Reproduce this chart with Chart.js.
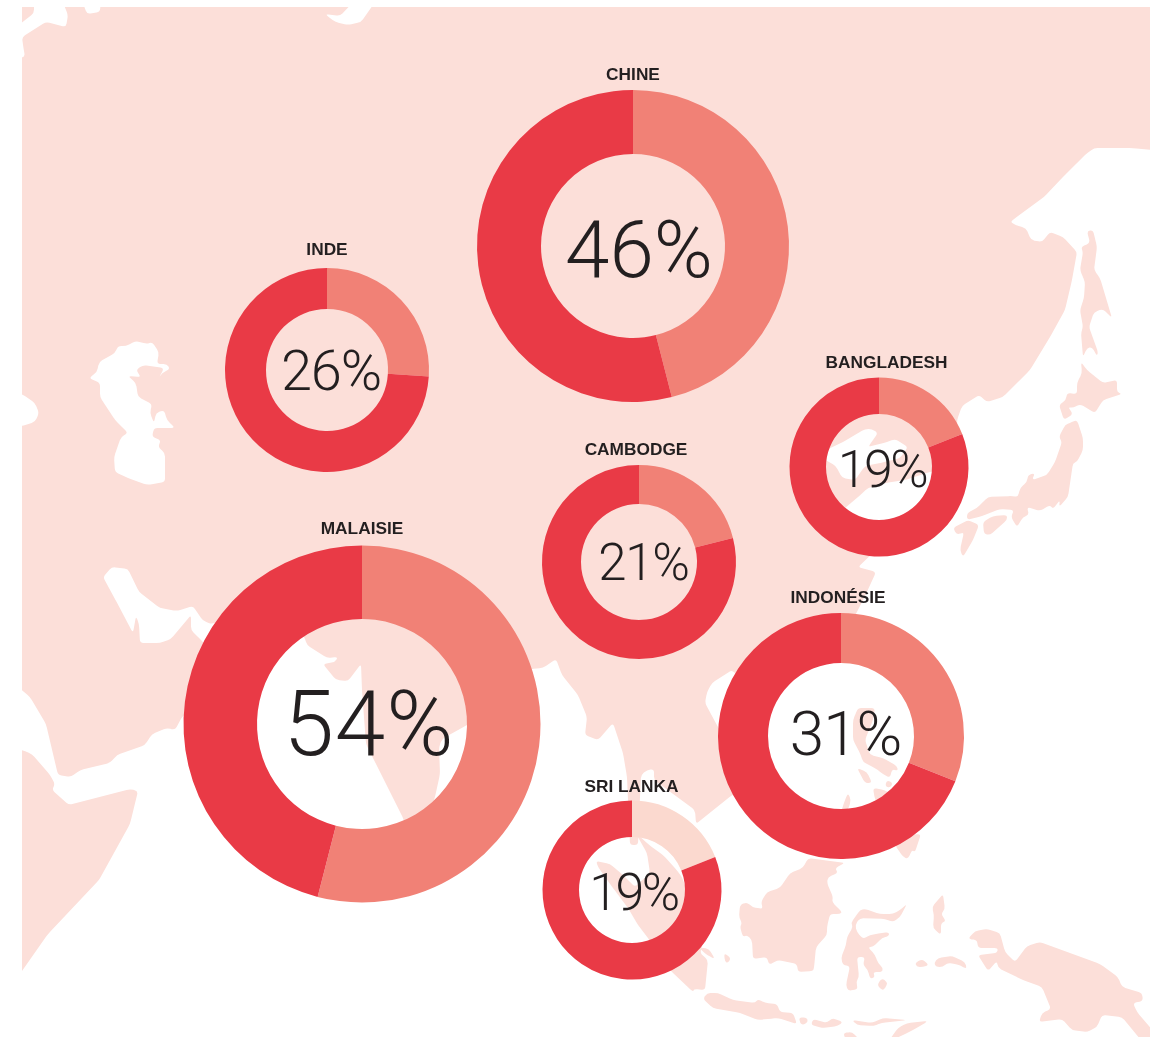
<!DOCTYPE html>
<html>
<head>
<meta charset="utf-8">
<title>Asie</title>
<script src="https://cdn.jsdelivr.net/npm/chart.js@4/dist/chart.umd.min.js"></script>
<style>
    html, body { margin: 0; padding: 0; background: #fff; }
    #stage { position: relative; width: 1166px; height: 1037px; overflow: hidden; }
    #map { position: absolute; left: 0; top: 0; }
    .donut { position: absolute; }
    .land { fill: #FCDFD9; }
    .sea { fill: #fff; }
</style>
</head>
<body>
<div id="stage">
<!-- backdrop map, traced by hand -->
<svg id="map" width="1166" height="1037" viewBox="0 0 1166 1037">
<defs><clipPath id="frame"><rect x="22" y="7" width="1128" height="1030"/></clipPath></defs>
<g clip-path="url(#frame)">
<polygon class="land" points="10,-5 34,-5 34,13 10,32"/>
<polygon class="land" points="22,37 46,22 66,27 68,15 60,-5 80,-5 87,14 100,12 101,-5 360,-5 340,16 325,14 335,22 348,25 361,22 380,-5 1170,-5 1170,152 1133,148 1094,148 1085,155 1063,177 1044,197 1010,222 1018,226 1026,228 1031,240 1042,242 1050,232 1063,237 1077,252 1072,280 1065,310 1050,337 1030,370 1003,397 987,402 979,395 962,406 957,420 960,480 930,520 871,555 858,567 876,572 866,594 856,614 841,640 750,690 732,670 712,683 707,692 705,703 718,727 735,755 745,790 732,795 696,824 695,810 654,780 654,769 647,770 641,775 640,797 638,845 630,845 628,800 627,777 623,753 613,723 598,740 585,735 587,717 578,695 562,675 556,659 543,668 530,669 500,700 467,725 442,739 439,747 440,774 435,797 425,830 404,830 404,820 366,744 362,690 361,664 348,681 336,680 323,664 335,662 338,657 327,658 307,645 304,636 270,600 212,624 203,621 193,606 177,611 160,608 139,592 128,569 112,567 103,577 115,599 133,633 136,616 139,624 140,643 160,643 171,639 191,615 191,630 203,642 230,680 200,700 182,717 175,730 167,728 152,734 145,745 117,755 110,763 80,770 71,777 58,775 46,724 30,697 10,680 10,427 22,426 35,422 39,413 35,403 22,394 10,392 10,60 25,57 23,45"/>
<polygon class="land" points="10,748 22,750 32,754 50,775 55,784 52,790 69,805 130,789 138,791 130,824 99,880 48,934 10,988"/>
<!-- Caspian -->
<polygon class="sea" points="89,378 97,372 99,362 115,353 118,346 126,346 136,341 147,344 152,342 159,352 157,364 167,364 170,369 162,373 159,378 164,368 143,365 136,370 141,377 128,376 136,383 138,397 152,404 150,413 154,423 156,413 164,410 167,420 175,428 154,428 152,437 161,440 158,447 165,453 165,482 147,485 128,478 115,472 114,457 121,437 128,433 115,420 100,397 100,383"/>
<!-- sea inside the Bangladesh ring -->
<polygon class="sea" points="820,453 843,442 865,429 872,429 878,433 868,447 887,442 895,439 908,447 900,458 885,462 865,466 855,480 842,478 836,466 822,458"/>
<polygon class="sea" points="838,514 858,497 868,488 885,483 905,480 930,472 975,460 975,540 900,570 850,540"/>
<!-- Sumatra and the peninsula inside the Sri Lanka ring -->
<polygon class="land" points="635,832 649,845 663,855 675,868 682,877 690,900 692,917 703,943 700,953 708,960 705,990 694,989 693,992 670,970 648,938 638,925 628,908 613,888 598,867 596,861 610,864 623,875 635,887 650,873 647,853"/>
<polygon class="land" points="698,947 709,949 715,959 707,955"/>
<polygon class="land" points="724,953 731,958 728,963 725,962"/>
<!-- Philippines -->
<polygon class="land" points="853,720 858,708 875,708 873,720 865,740 870,755 883,758 897,766 898,771 892,769 890,778 883,774 875,768 863,762 860,753 853,740"/>
<polygon class="land" points="857,768 867,772 872,783 865,783"/>
<polygon class="land" points="887,780 893,783 890,788 885,786"/>
<polygon class="land" points="873,788 885,790 900,800 890,815 875,800"/>
<polygon class="land" points="848,793 851,800 849,807 845,815 840,815 845,800"/>
<polygon class="land" points="895,845 903,857 908,859 912,850 915,852 921,834 905,835"/>
<!-- Borneo -->
<polygon class="land" points="808,858 845,863 835,868 838,873 828,877 827,883 833,897 832,902 842,912 840,914 830,914 827,927 827,935 816,947 814,968 813,971 798,972 797,964 778,960 769,965 767,957 753,959 752,940 747,935 743,937 740,927 742,923 739,917 740,905 747,902 752,907 763,909 761,902 767,892 780,888 790,873 803,868"/>
<!-- Sulawesi -->
<polygon class="land" points="907,904 900,917 893,922 885,919 860,918 855,925 857,932 863,939 870,935 882,933 889,932 889,936 882,938 873,947 868,947 875,955 878,963 883,968 882,972 873,972 875,977 870,979 868,970 863,965 865,957 857,957 859,977 856,982 858,989 848,991 846,985 850,966 843,965 841,958 846,945 847,937 853,927 851,923 860,910 865,909 880,914 893,914 900,910"/>
<polygon class="land" points="882,978 887,982 887,985 883,991 877,985"/>
<polygon class="land" points="943,894 944,902 945,909 941,914 946,921 941,923 941,935 933,928 934,915 932,907"/>
<polygon class="land" points="915,963 922,959 929,965 923,967 917,967"/>
<polygon class="land" points="934,963 938,958 952,956 965,962 967,969 957,964 947,963 943,967 936,967"/>
<!-- New Guinea -->
<polygon class="land" points="968,939 975,931 987,929 1000,933 1005,952 1015,962 1027,946 1040,942 1100,964 1118,977 1122,987 1142,993 1143,1001 1133,1003 1137,1012 1165,1045 1145,1045 1122,1017 1102,1015 1097,1027 1087,1032 1072,1030 1062,1019 1039,1022 1042,1013 1051,1009 1042,987 1023,980 998,968 997,961 988,971 978,955 997,953 998,948 978,948 977,940"/>
<!-- Java and the small islands -->
<polygon class="land" points="703,999 707,993 718,993 733,1000 755,1003 758,999 765,1003 777,1004 780,1012 793,1013 797,1024 778,1018 768,1019 758,1020 740,1013 713,1008"/>
<polygon class="land" points="799,1017 807,1018 808,1022 803,1025 800,1023"/>
<polygon class="land" points="813,1019 827,1023 832,1018 843,1022 838,1026 823,1028 811,1025"/>
<polygon class="land" points="852,1020 872,1023 883,1018 907,1020 882,1023 873,1026 857,1025"/>
<polygon class="land" points="907,1023 928,1021 917,1028 903,1035 888,1042 898,1028"/>
<polygon class="land" points="843,1033 852,1032 862,1042 847,1042"/>
<!-- Sakhalin, Japan -->
<polygon class="land" points="1087,231 1093,230 1097,247 1094,270 1100,278 1112,318 1103,309 1094,312 1089,327 1098,352 1097,356 1092,347 1087,348 1083,357 1081,333 1083,327 1080,310 1084,298 1085,282 1080,270 1083,252 1081,247 1090,243"/>
<polygon class="land" points="1081,362 1087,370 1103,383 1117,380 1117,392 1122,394 1103,400 1095,413 1080,404 1073,408 1068,407 1073,414 1064,420 1059,405 1066,400 1067,393 1077,394 1077,383 1082,373"/>
<polygon class="land" points="1072,422 1077,420 1083,438 1083,450 1077,462 1073,463 1068,497 1059,507 1060,500 1053,509 1050,505 1040,511 1027,507 1029,515 1023,517 1017,527 1011,517 1014,510 1000,509 982,516 967,520 967,513 977,508 988,497 1012,496 1018,497 1020,488 1027,482 1028,475 1035,473 1032,480 1047,475 1055,462 1062,442 1059,437 1065,425"/>
<polygon class="land" points="983,522 993,516 1007,515 1007,520 990,535 984,534"/>
<polygon class="land" points="953,528 968,520 979,525 973,540 963,557 960,550 964,532 957,535"/>
</g>
</svg>
<canvas class="donut" id="chine"></canvas>
<canvas class="donut" id="inde"></canvas>
<canvas class="donut" id="bangladesh"></canvas>
<canvas class="donut" id="cambodge"></canvas>
<canvas class="donut" id="malaisie"></canvas>
<canvas class="donut" id="indonesie"></canvas>
<canvas class="donut" id="srilanka"></canvas>
</div>
<script>
const countries = ['CHINE', 'INDE', 'BANGLADESH', 'CAMBODGE', 'MALAISIE', 'INDONÉSIE', 'SRI LANKA'];
const shares = [46, 26, 19, 21, 54, 31, 19];
const canvasIds = ['chine', 'inde', 'bangladesh', 'cambodge', 'malaisie', 'indonesie', 'srilanka'];

// ring geometry on the page
const centreX = [633, 327, 879, 639, 361.5, 841, 631.5];
const centreY = [246, 370, 467, 562, 724, 736, 890];
const outerR = [156, 102, 89.5, 97, 178.5, 123, 89.5];
const innerR = [92, 61, 53, 58, 105, 73, 53];
// text placement relative to each ring
const percentSize = [80, 56, 52, 51, 91, 62, 52];
const percentTrack = [0, -1.1, -2.6, -1.2, 1, -1.1, -2.6];
const percentDx = [6, 4, 3, 4.5, 7, 4.5, 1.5];
const percentDy = [31, 20, 20, 18, 31, 19, 20];
const titleDx = [0, 0, 7.5, -3, 0, -3, -0.5];
const titleGap = [10, 13, 9.5, 10, 12, 10, 9];

const RED = '#E93A46';
const SALMON = '#F18176';
const PALE = '#FBD9CF';
const INK = '#231F20';

// round the corners of the traced coast
document.querySelectorAll('#map polygon').forEach(function(poly) {
    const pts = poly.getAttribute('points').trim().split(/\s+/).map(function(p) { return p.split(',').map(Number); });
    let d = '';
    pts.forEach(function(p, i) {
        const prev = pts[(i + pts.length - 1) % pts.length];
        const next = pts[(i + 1) % pts.length];
        const cut = function(q) {
            const len = Math.hypot(q[0] - p[0], q[1] - p[1]);
            const t = Math.min(3.5, len / 2) / len;
            return [p[0] + (q[0] - p[0]) * t, p[1] + (q[1] - p[1]) * t];
        };
        const a = cut(prev);
        const b = cut(next);
        d += (i ? 'L' : 'M') + a[0] + ' ' + a[1] + 'Q' + p[0] + ' ' + p[1] + ' ' + b[0] + ' ' + b[1];
    });
    const path = document.createElementNS('http://www.w3.org/2000/svg', 'path');
    path.setAttribute('d', d + 'Z');
    path.setAttribute('class', poly.getAttribute('class'));
    poly.replaceWith(path);
});

// country name above the ring, share in the hole
const ringText = {
    id: 'ringText',
    afterDraw(chart, args, opts) {
        const ctx = chart.ctx;
        const arc = chart.getDatasetMeta(0).data[0];
        ctx.save();
        ctx.fillStyle = INK;
        ctx.textAlign = 'center';
        ctx.textBaseline = 'alphabetic';
        ctx.font = 'bold 17.3px "Liberation Sans", Arial, sans-serif';
        ctx.fillText(opts.name, arc.x + opts.nameDx, arc.y - arc.outerRadius - opts.nameGap);
        ctx.font = '300 ' + opts.size + 'px Roboto, "Liberation Sans", sans-serif';
        ctx.letterSpacing = opts.track + 'px';
        ctx.fillText(opts.share + '%', arc.x + opts.dx, arc.y + opts.dy);
        ctx.restore();
    }
};

countries.forEach(function(name, i) {
    const half = Math.ceil(outerR[i]) + 40;
    const canvas = document.getElementById(canvasIds[i]);
    canvas.style.left = (centreX[i] - half) + 'px';
    canvas.style.top = (centreY[i] - half) + 'px';
    canvas.style.width = (half * 2) + 'px';
    canvas.style.height = (half * 2) + 'px';
    canvas.width = half * 2;
    canvas.height = half * 2;

    new Chart(canvas.getContext('2d'), {
        type: 'doughnut',
        plugins: [ringText],
        data: {
            labels: [name, 'Autres'],
            datasets: [{
                data: [shares[i], 100 - shares[i]],
                backgroundColor: [name === 'SRI LANKA' ? PALE : SALMON, RED],
                borderWidth: 0
            }]
        },
        options: {
            responsive: false,
            animation: false,
            cutout: (innerR[i] / outerR[i] * 100) + '%',
            radius: outerR[i],
            plugins: {
                legend: { display: false },
                tooltip: { enabled: false },
                ringText: {
                    name: name,
                    nameDx: titleDx[i],
                    nameGap: titleGap[i],
                    share: shares[i],
                    size: percentSize[i],
                    track: percentTrack[i],
                    dx: percentDx[i],
                    dy: percentDy[i]
                }
            }
        }
    });
});
</script>
</body>
</html>
